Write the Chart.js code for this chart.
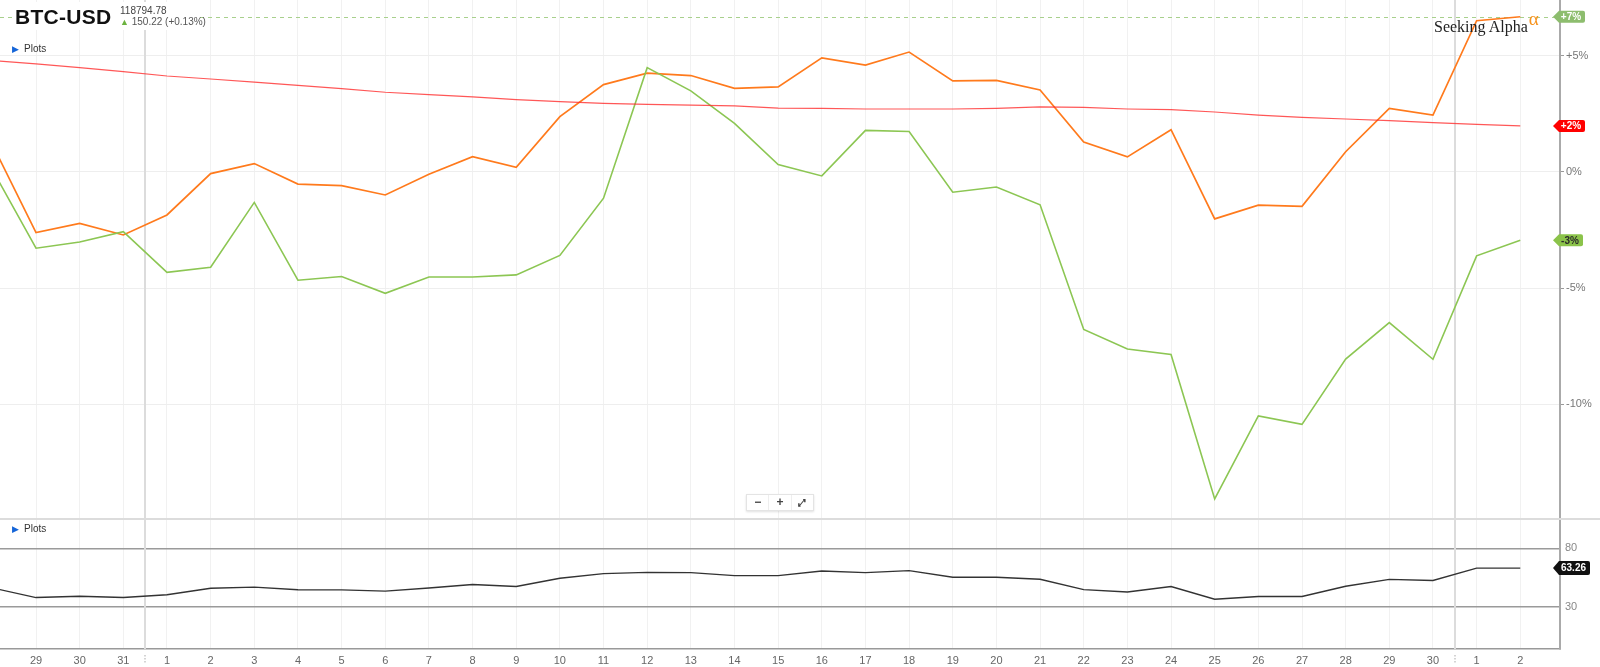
<!DOCTYPE html>
<html lang="en">
<head>
<meta charset="UTF-8">
<title>BTC-USD</title>
<script src="https://cdn.jsdelivr.net/npm/chart.js"></script>
<style>
  body { margin:0; width:1600px; height:667px; overflow:hidden; position:relative; background:#fff;
         font-family: Arial, "Liberation Sans", sans-serif; }
  .panel { position:absolute; left:0; width:1600px; }
  #header { position:absolute; left:13px; top:2px; width:184px; height:28px; background:#fff; white-space:nowrap; }
  #sym { position:absolute; left:2px; top:3px; font-size:21px; font-weight:bold; color:#111; letter-spacing:0.3px; }
  #last { position:absolute; left:107px; top:3px; font-size:10px; color:#444; }
  #chg { position:absolute; left:107px; top:14px; font-size:10px; color:#555; }
  #chg b { color:#6cb33f; font-size:9px; }
  .plots { position:absolute; left:12px; font-size:10px; color:#333; }
  .plots i { font-style:normal; color:#1565d8; font-size:9px; margin-right:5px; }
  #logo { position:absolute; left:1434px; top:15px; font-family:"Liberation Serif", serif; font-size:16px; color:#222; white-space:nowrap; }
  #logo span { color:#f7931e; font-size:19px; position:relative; top:-7px; margin-left:1px; }
  #zoomctl { position:absolute; left:746px; top:494px; width:66px; height:15px; background:#fff;
             border:1px solid #e4e4e4; box-shadow:0 1px 2px rgba(0,0,0,0.12); display:flex; }
  #zoomctl div { flex:1; text-align:center; font-size:12px; line-height:15px; color:#444; font-weight:bold; border-right:1px solid #eee; }
</style>
</head>
<body>

<div class="panel" style="top:0;height:518px"><canvas id="priceChart"></canvas></div>
<div class="panel" style="top:518px;height:149px"><canvas id="rsiChart"></canvas></div>

<div id="header">
  <div id="sym">BTC-USD</div>
  <div id="last">118794.78</div>
  <div id="chg"><b>&#9650;</b> 150.22 (+0.13%)</div>
</div>
<div class="plots" style="top:43px"><i>&#9654;</i>Plots</div>
<div class="plots" style="top:523px"><i>&#9654;</i>Plots</div>
<div id="logo">Seeking Alpha<span>&alpha;</span></div>
<div id="zoomctl"><div>&minus;</div><div>+</div><div style="border-right:none;font-size:10px">&#10530;</div></div>

<script>
// day labels (first one sits just left of the visible window)
const dayLabels = ['28','29','30','31','1','2','3','4','5','6','7','8','9','10','11','12','13','14','15','16',
  '17','18','19','20','21','22','23','24','25','26','27','28','29','30','1','2'];

// % change series
const orangeSeries = [1.18, -2.61, -2.21, -2.71, -1.85, -0.07, 0.36, -0.52, -0.59, -0.99,
  -0.10, 0.66, 0.20, 2.38, 3.76, 4.25, 4.15, 3.60, 3.66,
  4.91, 4.60, 5.16, 3.92, 3.94, 3.53, 1.29, 0.65, 1.82,
  -2.02, -1.43, -1.48, 0.87, 2.74, 2.45, 6.51, 6.68];
const greenSeries = [0.10, -3.28, -3.01, -2.57, -4.32, -4.10, -1.31, -4.66, -4.50, -5.22,
  -4.52, -4.52, -4.43, -3.59, -1.13, 4.49, 3.49, 2.09, 0.32,
  -0.17, 1.79, 1.74, -0.87, -0.65, -1.41, -6.78, -7.62, -7.85,
  -14.07, -10.50, -10.86, -8.05, -6.48, -8.06, -3.61, -2.94];
const redSeries = [4.80, 4.65, 4.49, 4.32, 4.13, 4.00, 3.87, 3.73, 3.59, 3.43,
  3.33, 3.23, 3.11, 3.03, 2.95, 2.91, 2.88, 2.84, 2.75,
  2.74, 2.71, 2.71, 2.71, 2.74, 2.80, 2.78, 2.71, 2.68,
  2.58, 2.45, 2.35, 2.28, 2.21, 2.12, 2.05, 1.98];

// lower study
const rsiSeries = [46.3, 38.1, 39.2, 38.1, 40.5, 46.0, 47.0, 44.8, 44.7, 43.6,
  46.3, 49.2, 47.5, 54.6, 58.5, 59.6, 59.4, 56.8, 56.8,
  60.8, 59.4, 61.1, 55.4, 55.4, 53.7, 44.9, 42.9, 47.5,
  36.7, 39.0, 39.0, 47.8, 53.6, 52.7, 63.2, 63.26];

const pctTicks = [5, 0, -5, -10];
const rsiTicks = [80, 30];

Chart.defaults.font.family = 'Arial, "Liberation Sans", sans-serif';
Chart.defaults.font.size = 11;

const xMin = 0.175, xMax = 35.91;
const toPoints = arr => arr.map((v, i) => ({ x: i, y: v }));
const monthBreaks = dayLabels.map((d, i) => d === '1' ? i - 0.5 : null).filter(v => v !== null);
const dayTicks = scale => {
  scale.ticks = dayLabels.map((d, i) => ({ value: i })).filter(t => t.value >= xMin && t.value <= xMax);
};
// no label overhang padding, the plot should run edge to edge
const noPad = s => { s.paddingTop = 0; s.paddingBottom = 0; s.paddingLeft = 0; s.paddingRight = 0; };

function drawTag(ctx, x, y, text, fill, color, w, h) {
  ctx.save();
  ctx.fillStyle = fill;
  ctx.beginPath();
  ctx.moveTo(x, y);
  ctx.lineTo(x + 6, y - h / 2);
  ctx.lineTo(x + w - 2, y - h / 2);
  ctx.quadraticCurveTo(x + w, y - h / 2, x + w, y - h / 2 + 2);
  ctx.lineTo(x + w, y + h / 2 - 2);
  ctx.quadraticCurveTo(x + w, y + h / 2, x + w - 2, y + h / 2);
  ctx.lineTo(x + 6, y + h / 2);
  ctx.closePath();
  ctx.fill();
  ctx.fillStyle = color;
  ctx.font = 'bold 10px Arial, "Liberation Sans", sans-serif';
  ctx.textAlign = 'center';
  ctx.textBaseline = 'middle';
  ctx.fillText(text, x + 4 + (w - 4) / 2, y + 0.5);
  ctx.restore();
}

const pctText = v => (v > 0 ? '+' : '') + Math.round(v) + '%';

const mainDecor = {
  id: 'mainDecor',
  beforeDatasetsDraw(chart) {
    const { ctx, chartArea, scales: { x, y } } = chart;
    ctx.save();
    ctx.strokeStyle = '#dcdcdc';
    ctx.lineWidth = 2;
    monthBreaks.forEach(b => {
      const px = Math.round(x.getPixelForValue(b));
      ctx.beginPath(); ctx.moveTo(px, chartArea.top); ctx.lineTo(px, chartArea.bottom); ctx.stroke();
    });
    const ly = Math.round(y.getPixelForValue(orangeSeries[orangeSeries.length - 1])) + 0.5;
    ctx.setLineDash([4, 4]);
    ctx.strokeStyle = '#a8d08c';
    ctx.lineWidth = 1;
    ctx.beginPath(); ctx.moveTo(chartArea.left, ly); ctx.lineTo(chartArea.right, ly); ctx.stroke();
    ctx.restore();
  },
  afterDraw(chart) {
    const { ctx, chartArea, scales: { y } } = chart;
    const tx = chartArea.right - 7;
    const o = orangeSeries[orangeSeries.length - 1];
    const r = redSeries[redSeries.length - 1];
    const g = greenSeries[greenSeries.length - 1];
    drawTag(ctx, tx, y.getPixelForValue(o), pctText(o), '#8dbd6e', '#fff', 32, 12);
    drawTag(ctx, tx, y.getPixelForValue(r), pctText(r), '#ff0000', '#fff', 32, 12);
    drawTag(ctx, tx, y.getPixelForValue(g), pctText(g), '#8bc34a', '#2a2a2a', 30, 12);
  }
};

const lowerDecor = {
  id: 'lowerDecor',
  beforeDatasetsDraw(chart) {
    const { ctx, chartArea, scales: { x } } = chart;
    ctx.save();
    ctx.strokeStyle = '#dcdcdc';
    ctx.lineWidth = 2;
    ctx.beginPath(); ctx.moveTo(0, 1); ctx.lineTo(chart.width, 1); ctx.stroke();
    monthBreaks.forEach(b => {
      const px = Math.round(x.getPixelForValue(b));
      ctx.beginPath(); ctx.moveTo(px, chartArea.top + 2); ctx.lineTo(px, chartArea.bottom); ctx.stroke();
      ctx.fillStyle = '#aaa';
      for (let k = 0; k < 3; k++) ctx.fillRect(px - 0.5, chartArea.bottom + 6 + k * 3, 1, 1.5);
    });
    ctx.restore();
  },
  afterDraw(chart) {
    const { ctx, chartArea, scales: { y } } = chart;
    const v = rsiSeries[rsiSeries.length - 1];
    drawTag(ctx, chartArea.right - 7, y.getPixelForValue(v), v.toFixed(2), '#111', '#fff', 37, 14);
  }
};

new Chart(document.getElementById('priceChart'), {
  type: 'line',
  data: {
    datasets: [
      { data: toPoints(redSeries), borderColor: 'rgba(255,45,45,0.8)', borderWidth: 1.2 },
      { data: toPoints(greenSeries), borderColor: '#8cc653', borderWidth: 1.6 },
      { data: toPoints(orangeSeries), borderColor: '#ff7a1c', borderWidth: 1.7 }
    ]
  },
  options: {
    responsive: true,
    maintainAspectRatio: false,
    animation: false,
    layout: { padding: 0, autoPadding: false },
    elements: { point: { radius: 0 }, line: { tension: 0 } },
    plugins: { legend: { display: false }, tooltip: { enabled: false } },
    scales: {
      x: {
        type: 'linear', min: xMin, max: xMax,
        afterBuildTicks: dayTicks,
        afterFit: s => { noPad(s); s.height = 0; },
        ticks: { display: false },
        grid: { color: '#f1f1f1', drawTicks: false },
        border: { display: false }
      },
      y: {
        position: 'right', min: -14.89, max: 7.4,
        afterBuildTicks: s => { s.ticks = pctTicks.map(v => ({ value: v })); },
        afterFit: s => { noPad(s); s.width = 40; },
        ticks: { color: '#777', padding: 2, callback: v => (v > 0 ? '+' : '') + v + '%' },
        grid: { color: '#eeeeee', tickLength: 4, tickColor: '#999' },
        border: { display: true, color: '#aaa', width: 2 }
      }
    }
  },
  plugins: [mainDecor]
});

new Chart(document.getElementById('rsiChart'), {
  type: 'line',
  data: {
    datasets: [
      { data: toPoints(rsiSeries), borderColor: '#333', borderWidth: 1.4 }
    ]
  },
  options: {
    responsive: true,
    maintainAspectRatio: false,
    animation: false,
    layout: { padding: 0, autoPadding: false },
    elements: { point: { radius: 0 }, line: { tension: 0 } },
    plugins: { legend: { display: false }, tooltip: { enabled: false } },
    scales: {
      x: {
        type: 'linear', min: xMin, max: xMax,
        afterBuildTicks: dayTicks,
        afterFit: s => { noPad(s); s.height = 18; },
        ticks: { color: '#666', padding: 5, maxRotation: 0, autoSkip: false, callback: v => dayLabels[v] },
        grid: { color: '#f1f1f1', drawTicks: false },
        border: { display: true, color: '#999', width: 1.5 }
      },
      y: {
        position: 'right', min: -5.8, max: 106,
        afterBuildTicks: s => { s.ticks = rsiTicks.map(v => ({ value: v })); },
        afterFit: s => { noPad(s); s.width = 40; },
        ticks: { color: '#888', padding: 5 },
        grid: { color: '#9a9a9a', lineWidth: 1.5, drawTicks: false },
        border: { display: true, color: '#aaa', width: 2 }
      }
    }
  },
  plugins: [lowerDecor]
});
</script>
</body>
</html>
